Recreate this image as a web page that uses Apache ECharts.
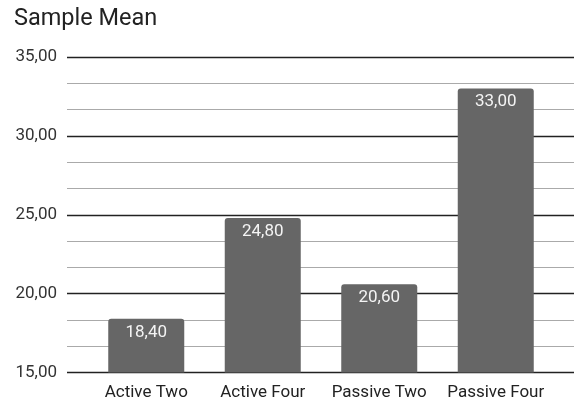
<!DOCTYPE html>
<html><head><meta charset="utf-8">
<script src="https://cdn.jsdelivr.net/npm/echarts@6/dist/echarts.min.js"></script>
<style>html,body{margin:0;padding:0;background:#fff}#c{width:579px;height:407px}</style>
</head><body><div id="c"></div>
<script>
const categories = ['Active Two', 'Active Four', 'Passive Two', 'Passive Four'];
const sampleMean = [18.40, 24.80, 20.60, 33.00];
const yMin = 15, yMax = 35, yStep = 5;

const fmt = v => v.toFixed(2).replace('.', ',');
const chart = echarts.init(document.getElementById('c'), null, {renderer: 'canvas'});
chart.setOption({
  animation: false,
  textStyle: {fontFamily: 'Roboto'},
  title: {text: 'Sample Mean', left: 9, top: 2, textStyle: {fontFamily: 'Roboto', fontSize: 23.5, fontWeight: 'normal', color: '#222'}},
  grid: [
    {left: 67, right: 5, top: 57, bottom: 34.5},
    {left: 88, right: 25, top: 57, bottom: 34.5}
  ],
  xAxis: [
    {gridIndex: 0, type: 'category', data: categories, show: false},
    {gridIndex: 1, type: 'category', data: categories,
     axisLine: {show: false}, axisTick: {show: false},
     axisLabel: {interval: 0, hideOverlap: false, color: '#222', fontSize: 17, margin: 12, fontFamily: 'Roboto'}}
  ],
  yAxis: [
    {gridIndex: 0, type: 'value', min: yMin, max: yMax, interval: yStep,
     axisLine: {show: false}, axisTick: {show: false},
     axisLabel: {color: '#333', fontSize: 17, margin: 10, formatter: v => fmt(v), fontFamily: 'Roboto'},
     splitLine: {show: true, lineStyle: {color: '#222', width: 1.3}},
     minorTick: {show: false, splitNumber: 3},
     minorSplitLine: {show: true, lineStyle: {color: '#aaa', width: 1}}},
    {gridIndex: 1, type: 'value', min: yMin, max: yMax, interval: yStep, show: false,
     splitLine: {show: false}}
  ],
  series: [{
    type: 'bar', xAxisIndex: 1, yAxisIndex: 1, data: sampleMean, barWidth: 76,
    itemStyle: {color: '#666666', borderRadius: [3, 3, 0, 0]},
    label: {show: true, position: 'insideTop', distance: 5, color: '#f4f4f4', fontSize: 17,
            fontFamily: 'Roboto', formatter: p => fmt(p.value)}
  }]
});
</script></body></html>
